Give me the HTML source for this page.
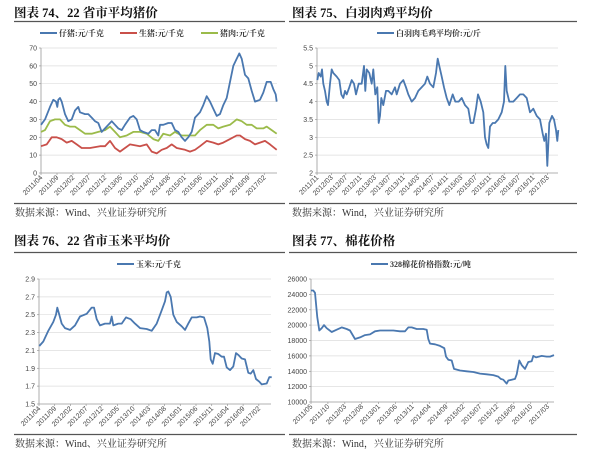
<!DOCTYPE html>
<html><head><meta charset="utf-8"><style>
html,body{margin:0;padding:0;background:#fff;width:600px;height:456px;overflow:hidden}
svg{display:block}
text{font-family:"Liberation Serif","Noto Serif CJK SC","Noto Sans CJK SC",serif}
.t{font-size:12.5px;font-weight:bold;fill:#111}
.s{font-size:10px;fill:#333}
.lg{font-size:8px;font-weight:bold;fill:#333}
.tk{font-size:7px;fill:#444;font-family:"Liberation Sans",sans-serif}
</style></head><body>
<svg id="s" width="600" height="456" xmlns="http://www.w3.org/2000/svg">
<text class="t" x="14" y="17">图表 74、22 省市平均猪价</text>
<text class="t" x="292" y="17">图表 75、白羽肉鸡平均价</text>
<text class="t" x="14" y="245">图表 76、22 省市玉米平均价</text>
<text class="t" x="292" y="245">图表 77、棉花价格</text>
<line x1="14" y1="21.5" x2="285" y2="21.5" stroke="#555" stroke-width="1.3"/>
<line x1="289" y1="21.5" x2="577" y2="21.5" stroke="#555" stroke-width="1.3"/>
<line x1="14" y1="252.5" x2="285" y2="252.5" stroke="#555" stroke-width="1.3"/>
<line x1="289" y1="252.5" x2="577" y2="252.5" stroke="#555" stroke-width="1.3"/>
<line x1="14" y1="203.5" x2="285" y2="203.5" stroke="#555" stroke-width="1.3"/>
<line x1="289" y1="203.5" x2="577" y2="203.5" stroke="#555" stroke-width="1.3"/>
<line x1="14" y1="434.5" x2="285" y2="434.5" stroke="#555" stroke-width="1.3"/>
<line x1="289" y1="434.5" x2="577" y2="434.5" stroke="#555" stroke-width="1.3"/>
<text class="s" x="15" y="216">数据来源：Wind、兴业证券研究所</text>
<text class="s" x="292" y="216">数据来源：Wind，兴业证券研究所</text>
<text class="s" x="15" y="447">数据来源：Wind、兴业证券研究所</text>
<text class="s" x="292" y="447">数据来源：Wind，兴业证券研究所</text>
<g id="g"></g>
</svg>
<script>
var g=document.getElementById('g'),h='';
var B='#4a78b0',R='#c9504a',G='#9bbb4a';
function chart(o){
 var x0=o.x0,x1=o.x1,yT=o.yT,yB=o.yB;
 function Y(v){return yB-(v-o.vB)/(o.vT-o.vB)*(yB-yT);}
 for(var v=o.vB;v<=o.vT+1e-9;v+=o.step){
  var y=Y(v);
  if(v>o.vB+1e-9)h+='<line x1="'+x0+'" y1="'+y.toFixed(1)+'" x2="'+x1+'" y2="'+y.toFixed(1)+'" stroke="#ddd" stroke-width="0.7"/>';
  h+='<line x1="'+(x0-2)+'" y1="'+y.toFixed(1)+'" x2="'+x0+'" y2="'+y.toFixed(1)+'" stroke="#999" stroke-width="0.7"/>';
  h+='<text class="tk" x="'+(x0-4)+'" y="'+(y+2.5).toFixed(1)+'" text-anchor="end">'+o.fmt(v)+'</text>';
 }
 h+='<line x1="'+x0+'" y1="'+yT+'" x2="'+x0+'" y2="'+yB+'" stroke="#999" stroke-width="0.8"/>';
 h+='<line x1="'+x0+'" y1="'+yB+'" x2="'+x1+'" y2="'+yB+'" stroke="#999" stroke-width="0.8"/>';
 o.labels.forEach(function(l,i){
  var x=x0+i*o.lstep;
  h+='<line x1="'+x.toFixed(1)+'" y1="'+yB+'" x2="'+x.toFixed(1)+'" y2="'+(yB+2)+'" stroke="#999" stroke-width="0.7"/>';
  h+='<text class="tk" transform="translate('+(x+2).toFixed(1)+','+(yB+5)+') rotate(-45)" text-anchor="end">'+l+'</text>';
 });
 o.series.forEach(function(s){
  var pts=[];for(var i=0;i<s.d.length;i+=2){pts.push((o.ox+s.d[i]/3).toFixed(1)+','+Y(s.d[i+1]).toFixed(1));}
  h+='<polyline points="'+pts.join(' ')+'" fill="none" stroke="'+s.c+'" stroke-width="1.8" stroke-linejoin="round"/>';
 });
}
function lab(a,b,step,n){var r=[],y=a,m=b;for(var i=0;i<n;i++){r.push(y+'/'+(m<10?'0':'')+m);m+=step;while(m>12){m-=12;y++;}}return r;}
chart({x0:41,x1:277,yT:48,yB:173,vT:70,vB:0,step:10,fmt:function(v){return v},ox:0,
 labels:lab(2011,4,5,15),lstep:15.95,series:[
 {c:G,d:[123,23,135,24,150,29,165,30,180,30,195,27,210,26,225,26,240,24,255,22,275,22,295,23,315,24,330,26,345,23,360,20,380,21,400,23,420,23,440,22,460,19,475,18,490,22,510,21,525,23,545,21,565,21,585,21,600,24,620,27,640,27,655,25,670,26,690,27,710,30,725,29,740,27,755,27,770,25,790,25,800,26,815,24,830,22]},
 {c:R,d:[123,15,140,16,155,20,170,20,185,19,200,17,215,18,230,16,245,14,270,14,300,15,315,15,330,18,345,14,360,12,375,14,390,16,420,15,440,16,455,12,470,11,485,13,500,14,515,16,530,14,555,13,570,12,585,13,600,15,620,18,640,17,655,16,670,17,690,19,710,21,720,21,735,19,750,18,765,16,780,17,795,18,810,16,830,13]},
 {c:B,d:[123,27,135,30,150,37,160,41,168,40,172,37,175,41,180,42,185,40,195,33,205,29,215,30,225,35,235,37,240,34,255,33,265,33,275,31,285,29,295,28,305,23,315,25,325,27,335,29,345,27,355,25,365,24,375,27,390,31,400,32,410,30,420,24,430,23,445,22,455,24,465,24,475,21,480,27,490,27,505,28,515,28,525,24,535,23,545,20,555,18,565,20,575,23,585,31,600,34,610,38,620,43,630,40,640,36,650,32,660,33,670,38,680,42,690,51,700,60,710,64,718,67,725,64,735,55,745,53,755,46,765,40,780,41,790,45,800,51,812,51,820,47,827,44,830,40]}]});
chart({x0:317,x1:558,yT:48,yB:173,vT:5.5,vB:2,step:0.5,fmt:function(v){return (Math.round(v*10)/10)+''},ox:300,
 labels:lab(2011,11,4,17),lstep:14.4,series:[
 {c:B,d:[52,4.6,56,4.8,62,4.7,66,4.9,70,4.5,75,4.3,80,4.0,84,3.9,90,4.5,95,4.9,100,4.8,110,4.7,118,4.6,124,4.2,130,4.1,135,4.3,140,4.2,148,4.4,155,4.6,162,4.5,168,4.2,176,4.5,185,4.5,192,5.0,196,4.3,200,4.9,208,4.8,215,4.5,220,4.9,226,4.2,232,4.4,236,3.4,240,3.6,244,4.1,250,3.9,258,4.3,265,4.3,275,4.2,285,4.4,290,4.2,300,4.5,310,4.6,318,4.4,325,4.2,335,4.0,345,4.1,355,4.3,365,4.4,375,4.5,382,4.7,390,4.5,400,4.4,408,4.8,413,5.2,418,5.0,425,4.7,432,4.4,440,4.1,448,3.9,458,4.2,466,4.0,476,4.0,485,4.1,495,3.9,505,3.8,512,3.4,520,3.4,528,3.8,534,4.2,542,4.0,550,3.7,555,3.0,560,2.8,565,2.7,570,3.3,578,3.4,585,3.4,595,3.5,605,3.7,612,4.0,616,5.0,620,4.3,628,4.0,640,4.0,650,4.1,660,4.2,670,4.2,680,4.1,690,3.7,700,3.8,710,3.6,720,3.5,728,3.1,733,2.9,738,3.1,742,2.2,748,3.4,756,3.6,762,3.5,768,3.2,772,2.9,775,3.2]}]});
chart({x0:39,x1:271,yT:279,yB:404,vT:2.9,vB:1.5,step:0.2,fmt:function(v){return (Math.round(v*10)/10).toFixed(1)},ox:0,
 labels:lab(2011,4,5,15),lstep:15.7,series:[
 {c:B,d:[118,2.15,130,2.2,145,2.32,160,2.42,168,2.5,172,2.58,178,2.5,185,2.4,195,2.35,210,2.33,225,2.38,240,2.48,260,2.51,275,2.58,282,2.58,290,2.45,300,2.38,315,2.4,330,2.4,335,2.48,340,2.38,355,2.4,365,2.4,378,2.47,392,2.45,405,2.4,420,2.35,440,2.34,455,2.32,470,2.4,485,2.55,495,2.65,500,2.75,505,2.76,512,2.7,520,2.5,530,2.42,545,2.37,555,2.33,565,2.4,575,2.47,590,2.47,600,2.48,612,2.47,622,2.35,628,2.2,632,2.0,638,1.95,645,2.07,655,2.06,665,2.03,672,2.03,680,1.91,690,1.88,700,1.92,708,2.07,715,2.05,725,2.01,735,2.0,745,1.85,752,1.84,760,1.88,768,1.78,778,1.75,785,1.72,800,1.73,808,1.8,815,1.8]}]});
chart({x0:311,x1:554,yT:279,yB:402,vT:26000,vB:10000,step:2000,fmt:function(v){return v},ox:300,
 labels:lab(2011,5,5,15),lstep:16.9,series:[
 {c:B,d:[33,24500,40,24500,45,24200,52,21000,58,19300,65,19600,72,20000,80,19600,95,19100,110,19400,125,19700,140,19500,150,19300,165,18200,180,18400,195,18700,210,18800,225,19200,240,19300,260,19300,280,19300,300,19200,315,19200,325,19700,335,19700,350,19500,370,19500,380,19400,385,18200,390,17600,405,17500,420,17300,433,17000,438,15900,445,15500,455,15400,462,14300,480,14100,500,14000,520,13900,540,13700,560,13600,580,13500,595,13300,602,13000,610,12900,620,12400,625,12800,635,12900,645,13000,650,13600,658,15400,665,14800,675,14300,685,15200,695,15300,700,16000,708,15800,725,16000,740,15900,750,15900,762,16100]}]});
function leg(x,y,c,t){h+='<line x1="'+x+'" y1="'+y+'" x2="'+(x+17)+'" y2="'+y+'" stroke="'+c+'" stroke-width="2"/><text class="lg" x="'+(x+19)+'" y="'+(y+3)+'">'+t+'</text>';}
leg(40,33,B,'仔猪:元/千克');leg(120,33,R,'生猪:元/千克');leg(201,33,G,'猪肉:元/千克');
leg(377,33,B,'白羽肉毛鸡平均价:元/斤');
leg(117,264,B,'玉米:元/千克');
leg(371,264,B,'328棉花价格指数:元/吨');
g.innerHTML=h;
</script>
</body></html>
